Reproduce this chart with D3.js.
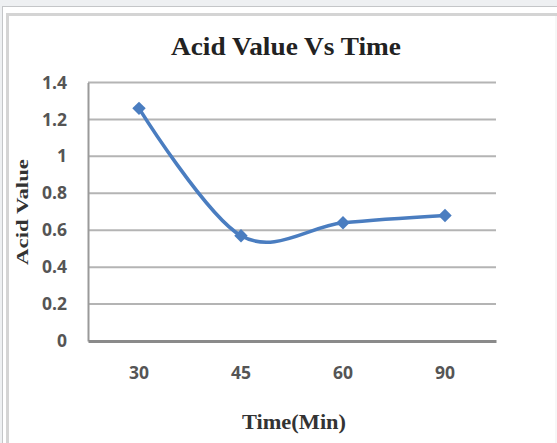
<!DOCTYPE html>
<html>
<head>
<meta charset="utf-8">
<script src="https://cdn.jsdelivr.net/npm/d3@7"></script>
<style>
  body { margin: 0; background: #fff; }
  svg { display: block; }
</style>
</head>
<body>
<script>
'use strict';

// chart data
const times = ["30", "45", "60", "90"];
const acidValues = [1.26, 0.57, 0.64, 0.68];
const yTicks = [0, 0.2, 0.4, 0.6, 0.8, 1, 1.2, 1.4];

const params = {
	width: 557,
	height: 443,
	left: 88,
	right: 496,
	top: 82.5,
	bottom: 341
};

const svg = d3.select("body").append("svg")
	.attr("width", params.width)
	.attr("height", params.height);

// page frame around the picture
svg.append("rect").attr("x", 0).attr("y", 0)
	.attr("width", params.width).attr("height", 6.5).attr("fill", "#eef0f2");
svg.append("rect").attr("x", 0).attr("y", 0)
	.attr("width", 2).attr("height", params.height).attr("fill", "#eef0f2");
svg.append("line").attr("x1", 2).attr("x2", params.width).attr("y1", 6.5).attr("y2", 6.5)
	.attr("stroke", "#c4c6c8").attr("stroke-width", 1);
svg.append("line").attr("x1", 2.5).attr("x2", 2.5).attr("y1", 6.5).attr("y2", params.height)
	.attr("stroke", "#c4c6c8").attr("stroke-width", 1);
svg.append("path")
	.attr("d", `M7.5,${params.height} V14.5 H${params.width}`)
	.attr("fill", "none").attr("stroke", "#d4d4d4").attr("stroke-width", 3);
svg.append("line").attr("x1", 556).attr("x2", 556).attr("y1", 16).attr("y2", params.height)
	.attr("stroke", "#efefef").attr("stroke-width", 1);

// scales
const xScale = d3.scaleBand()
	.domain(times)
	.range([params.left, params.right]);

const yScale = d3.scaleLinear()
	.domain([0, 1.4])
	.range([params.bottom, params.top]);

// gridlines
svg.append("g")
	.selectAll("line")
	.data(yTicks.filter(d => d > 0))
	.join("line")
		.attr("x1", params.left)
		.attr("x2", params.right)
		.attr("y1", d => yScale(d))
		.attr("y2", d => yScale(d))
		.attr("stroke", "#b4b4b4")
		.attr("stroke-width", 2);

// y axis
const yAxis = svg.append("g")
	.attr("transform", `translate(${params.left},0)`)
	.call(d3.axisLeft(yScale).tickValues(yTicks).tickSize(0).tickPadding(21)
		.tickFormat(d => String(d)));
yAxis.select(".domain").attr("stroke", "#9a9a9a").attr("stroke-width", 2);
yAxis.selectAll("text")
	.attr("font-family", "'Open Sans', sans-serif")
	.attr("font-weight", "bold")
	.attr("font-size", 17.5)
	.attr("fill", "#555");

// x axis
const xAxis = svg.append("g")
	.attr("transform", `translate(0,${params.bottom})`)
	.call(d3.axisBottom(xScale).tickSize(0).tickPadding(26));
xAxis.select(".domain").attr("stroke", "#8a8a8a").attr("stroke-width", 3);
xAxis.selectAll("text")
	.attr("font-family", "'Open Sans', sans-serif")
	.attr("font-weight", "bold")
	.attr("font-size", 17.5)
	.attr("fill", "#555");

// series line
const points = times.map((t, i) => ({ t: t, v: acidValues[i] }));
const line = d3.line()
	.x(d => xScale(d.t) + xScale.bandwidth() / 2)
	.y(d => yScale(d.v))
	.curve(d3.curveCardinal.tension(0));

svg.append("path")
	.datum(points)
	.attr("d", line)
	.attr("fill", "none")
	.attr("stroke", "#4a7dc0")
	.attr("stroke-width", 3.6);

svg.append("g")
	.selectAll("path")
	.data(points)
	.join("path")
		.attr("transform", d => `translate(${xScale(d.t) + xScale.bandwidth() / 2},${yScale(d.v)})`)
		.attr("d", d3.symbol(d3.symbolDiamond2, 115))
		.attr("fill", "#4a7dc0");

// titles
svg.append("text")
	.attr("x", 286).attr("y", 55)
	.attr("text-anchor", "middle")
	.attr("font-family", "'Liberation Serif', serif")
	.attr("font-weight", "bold")
	.attr("font-size", 25)
	.attr("textLength", 230)
	.attr("lengthAdjust", "spacingAndGlyphs")
	.attr("fill", "#222")
	.text("Acid Value Vs Time");

svg.append("text")
	.attr("x", 294).attr("y", 429)
	.attr("text-anchor", "middle")
	.attr("font-family", "'Liberation Serif', serif")
	.attr("font-weight", "bold")
	.attr("font-size", 21)
	.attr("textLength", 104)
	.attr("lengthAdjust", "spacingAndGlyphs")
	.attr("fill", "#333")
	.text("Time(Min)");

svg.append("text")
	.attr("transform", "translate(28,212) rotate(-90)")
	.attr("text-anchor", "middle")
	.attr("font-family", "'Liberation Serif', serif")
	.attr("font-weight", "bold")
	.attr("font-size", 17)
	.attr("textLength", 106)
	.attr("lengthAdjust", "spacingAndGlyphs")
	.attr("fill", "#333")
	.text("Acid Value");
</script>
</body>
</html>
